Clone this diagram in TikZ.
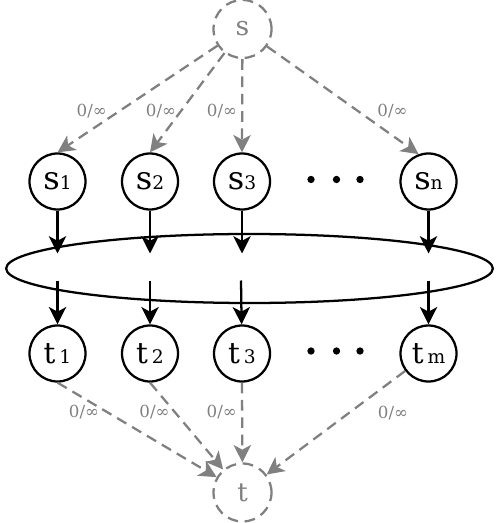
\documentclass[tikz,border=0pt]{standalone}
\usepackage{fontspec}
\setmainfont{DejaVu Serif}
\usetikzlibrary{arrows.meta,shapes.geometric}
\definecolor{eg}{HTML}{808080}
\newcommand{\mysubtxt}[1]{{\fontsize{14pt}{16pt}\selectfont #1}}
\begin{document}
\begin{tikzpicture}[x=0.75pt,y=-0.75pt,
  vtx/.style={circle,draw=black,line width=1.7pt,minimum size=42pt,inner sep=0pt,font=\fontsize{24pt}{28pt}\selectfont},
  tvtx/.style={vtx,font=\fontsize{22pt}{26pt}\selectfont},
  term/.style={circle,draw=eg,text=eg,line width=1.7pt,dash pattern=on 8pt off 5pt,minimum size=43.5pt,inner sep=0pt},
  arr/.style={-{Stealth[length=13pt,width=13pt,inset=3.5pt]},line width=1.7pt},
  garr/.style={arr,draw=eg,dash pattern=on 8pt off 5pt},
  lbl/.style={text=eg,font=\fontsize{12.5pt}{14pt}\selectfont,inner sep=0pt},
  dotnode/.style={circle,fill=black,minimum size=5.5pt,inner sep=0pt}]
\useasboundingbox (0,0) rectangle (500,523);

% source and sink
\node[term,font=\fontsize{20pt}{24pt}\selectfont] (s) at (242.5,29) {s};
\node[term,font=\fontsize{19.5pt}{24pt}\selectfont] (t) at (242.5,492.5) {t};

% s nodes
\node[vtx] (s1) at (57.5,181.5) {s\mysubtxt{1}};
\node[vtx] (s2) at (150,181.5) {s\mysubtxt{2}};
\node[vtx] (s3) at (242,181.5) {s\mysubtxt{3}};
\node[vtx] (sn) at (428.5,181.5) {s\mysubtxt{n}};

% t nodes
\node[tvtx] (t1) at (57.5,353.5) {t\hspace{3pt}\mysubtxt{1}};
\node[tvtx] (t2) at (150,353.5) {t\hspace{3pt}\mysubtxt{2}};
\node[tvtx] (t3) at (242,353.5) {t\hspace{3pt}\mysubtxt{3}};
\node[tvtx] (tm) at (428.5,353.5) {t\hspace{3pt}\mysubtxt{m}};

% dots
\node[dotnode] (du1) at (311,179.5) {};
\node[dotnode] (du2) at (336.5,179.5) {};
\node[dotnode] (du3) at (360,179.5) {};
\node[dotnode] (dl1) at (311,351) {};
\node[dotnode] (dl2) at (336.5,351) {};
\node[dotnode] (dl3) at (360,351) {};

% ellipse
\node[ellipse,draw,line width=1.7pt,minimum width=365pt,minimum height=51.75pt,inner sep=0pt] (el) at (249.5,268.5) {};

% arrow ends inside ellipse
\coordinate (a1) at (57.5,253.5);
\coordinate (a2) at (150,253.5);
\coordinate (a3) at (242,253.5);
\coordinate (an) at (428.5,253.5);
\coordinate (b1) at (57.5,280.5);
\coordinate (b2) at (150,280.5);
\coordinate (b3) at (241,280.5);
\coordinate (bm) at (428.5,280.5);

\draw[arr] (s1) -- (a1);
\draw[arr] (s2) -- (a2);
\draw[arr] (s3) -- (a3);
\draw[arr] (sn) -- (an);
\draw[arr] (b1) -- (t1);
\draw[arr] (b2) -- (t2);
\draw[arr] (b3) -- (t3);
\draw[arr] (bm) -- (tm);

% source edges
\draw[garr] (s) -- (s1.north);
\draw[garr] (s) -- (s2.north);
\draw[garr] (s) -- (s3.north);
\draw[garr] (s) -- (sn.110);

% sink edges
\draw[garr] (t1.south) -- (t);
\draw[garr] (t2.south) -- (t);
\draw[garr] (t3.south) -- (t);
\draw[garr] (tm) -- (t);

% labels
\node[lbl] (l1) at (91.7,111) {0/∞};
\node[lbl] (l2) at (161,111) {0/∞};
\node[lbl] (l3) at (222,111) {0/∞};
\node[lbl] (l4) at (392.5,111) {0/∞};
\node[lbl] (m1) at (84,412) {0/∞};
\node[lbl] (m2) at (154.5,412) {0/∞};
\node[lbl] (m3) at (221.7,412) {0/∞};
\node[lbl] (m4) at (393,413) {0/∞};
\end{tikzpicture}
\end{document}
